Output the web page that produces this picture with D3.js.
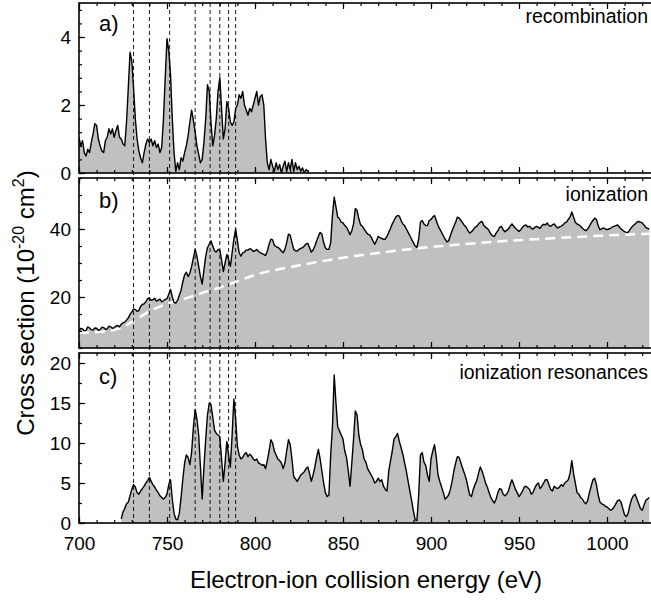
<!DOCTYPE html>
<html>
<head>
<meta charset="utf-8">
<script src="https://cdn.jsdelivr.net/npm/d3@7"></script>
<style>
  body { margin: 0; background: #fff; }
  svg { display: block; font-family: "Liberation Sans", Arial, sans-serif; }
</style>
</head>
<body>
<div id="chart"></div>
<script>
// Energy grid: each series is sampled every 1 eV from its start energy
var stepE = 1;
var startA = 700, startB = 700, startC = 724;

// a) recombination cross section (10^-20 cm^2), 700-830 eV
var crossA = [
  1.05, 0.8, 0.95, 0.6, 0.5, 0.7, 0.6, 0.9, 1.15, 1.45,
  1.4, 1.0, 0.8, 0.65, 0.6, 0.95, 1.05, 1.3, 1.15, 1.3,
  1.05, 1.25, 1.4, 1.05, 1.0, 0.85, 0.8, 1.5, 2.5, 3.55,
  3.3, 2.5, 1.6, 1.0, 0.65, 0.45, 0.3, 0.6, 0.85, 1.0,
  0.9, 1.0, 0.8, 0.95, 0.75, 0.85, 0.6, 0.75, 1.6, 2.8,
  3.95, 3.6, 2.9, 1.6, 0.6, 0.05, 0.3, 0.1, 0.45, 0.35,
  0.6, 0.8, 1.1, 1.5, 1.85, 1.55, 1.2, 0.8, 0.55, 0.3,
  0.4, 0.9, 1.6, 2.6, 2.4, 1.5, 0.8, 1.1, 1.6, 2.4,
  2.8, 1.9, 1.0, 1.3, 2.1, 1.9, 1.5, 1.4, 1.5, 1.9,
  2.0, 2.3, 2.2, 2.4, 2.0, 1.85, 1.7, 1.9, 1.8, 2.0,
  2.2, 2.4, 2.0, 2.25, 2.3, 2.0, 1.0, 0.3, 0.1, 0.4,
  0.2, 0.05, 0.3, 0.1, 0.25, 0.0, 0.2, 0.35, 0.05, 0.3,
  0.1, 0.4, 0.05, 0.3, 0.1, 0.2, 0.05, 0.15, 0.0, 0.1,
  0.05];

// b) ionization cross section, 700-1024 eV
var crossB = [
  10.0, 10.8, 10.6, 10.1, 10.2, 11.2, 10.9, 10.4, 10.3, 10.9,
  10.8, 10.2, 10.4, 11.1, 11.0, 10.5, 10.6, 11.4, 11.2, 10.8,
  11.0, 11.5, 11.6, 11.2, 12.0, 12.4, 12.6, 13.2, 13.8, 14.9,
  15.6, 16.5, 16.3, 15.8, 16.0, 17.2, 17.8, 18.0, 18.6, 19.5,
  19.7, 19.0, 19.2, 19.6, 18.8, 19.1, 19.4, 18.6, 18.9, 19.3,
  19.5, 20.8, 22.2, 20.0, 18.4, 18.2, 19.0, 20.5, 22.0, 24.5,
  26.5, 27.3, 26.0, 27.0, 29.0, 31.5, 34.0, 32.0, 29.0, 26.0,
  23.8, 28.0, 32.0, 34.5, 35.5, 36.5, 35.0, 33.6, 33.2, 34.0,
  33.8, 31.0, 27.5, 30.0, 32.5, 31.0, 29.0, 33.0, 37.0, 40.0,
  36.5, 33.0, 32.0, 33.0, 33.2, 33.8, 33.8, 34.2, 34.0, 33.4,
  33.6, 34.0, 33.4, 33.0, 32.8, 32.5, 32.2, 33.5, 35.5, 37.0,
  36.8, 35.2, 34.8, 34.6, 34.2, 33.5, 33.0, 34.0, 36.0, 38.5,
  38.2, 36.0, 34.0, 33.6, 33.5, 34.0, 34.3, 34.5, 35.0, 35.6,
  35.8, 34.5, 33.2, 33.8, 35.0, 36.5, 37.8, 39.0, 38.5, 36.0,
  34.5, 34.0, 34.0, 36.0, 44.0, 49.4, 46.5, 43.5, 43.0, 42.0,
  41.8, 41.0, 40.5, 39.5, 38.3, 39.5, 41.5, 46.0, 45.5, 43.0,
  41.2, 40.8, 40.0, 39.2, 38.5, 38.3, 37.6, 36.5, 35.5, 36.5,
  37.8, 37.5, 37.2, 37.0, 37.0, 37.8, 39.0, 40.2, 41.5, 42.5,
  43.5, 44.0, 43.8, 42.5, 41.5, 41.0, 40.0, 39.0, 38.0, 37.0,
  36.0, 35.0, 34.6, 37.0, 42.0, 42.5, 41.5, 41.0, 41.0, 42.5,
  42.8, 43.5, 44.0, 42.5, 41.0, 40.0, 39.0, 38.0, 37.0, 36.2,
  36.5, 38.0, 39.5, 40.8, 42.0, 43.5, 43.2, 42.5, 41.8, 41.0,
  40.5, 39.5, 38.8, 39.2, 39.8, 40.5, 40.8, 41.5, 42.0, 42.2,
  41.0, 40.5, 40.2, 39.5, 38.5, 38.0, 37.8, 38.8, 39.5, 40.5,
  40.8, 39.8, 39.2, 39.6, 40.0, 40.8, 41.5, 40.8, 40.2, 39.8,
  39.3, 39.8, 40.5, 41.0, 41.2, 40.6, 40.8, 40.2, 40.0, 40.5,
  40.8, 40.5, 40.2, 41.0, 41.4, 41.2, 41.8, 41.0, 40.8, 41.2,
  41.5, 40.8, 40.3, 40.6, 40.8, 41.2, 41.8, 42.0, 42.8, 43.5,
  45.0, 43.5, 42.0, 41.5, 41.2, 40.8, 40.2, 39.8, 39.5, 40.0,
  40.8, 41.8, 42.5, 43.2, 42.8, 41.0, 39.8, 40.0, 40.3, 40.0,
  39.8, 40.0, 40.2, 40.6, 40.8, 41.0, 41.2, 40.6, 40.0, 39.6,
  39.2, 39.0, 39.0, 39.8, 40.5, 41.0, 41.5, 42.0, 42.2, 42.0,
  41.8, 41.2, 40.5, 40.2, 40.0];

// b) direct ionization background (white dashed curve)
var bgEnergy = [700, 710, 720, 730, 740, 750, 760, 770, 780, 790, 800, 820, 840, 860, 880, 900, 920, 940, 960, 980, 1000, 1024];
var bgCross = [9.5, 9.7, 10.3, 12.6, 15.8, 18.0, 19.5, 21.2, 22.8, 24.6, 26.5, 28.8, 30.7, 32.3, 33.6, 34.7, 35.6, 36.4, 37.0, 37.6, 38.1, 38.6];

// c) ionization resonances, 724-1024 eV
var crossC = [
  0.5, 1.4, 1.8, 2.4, 2.6, 3.4,
  4.2, 4.8, 4.5, 3.8, 3.6, 4.0, 4.3, 4.6, 5.0, 5.3,
  5.7, 5.2, 4.8, 4.5, 4.1, 3.8, 3.4, 3.2, 3.0, 3.2,
  3.6, 4.8, 5.4, 3.0, 1.2, 0.5, 0.4, 1.2, 3.2, 5.5,
  7.5, 8.5, 8.2, 7.3, 8.9, 12.0, 14.2, 13.0, 11.0, 7.0,
  3.0, 7.0, 10.5, 13.5, 15.0, 14.8, 13.2, 11.6, 11.2, 11.0,
  10.8, 8.0, 5.2, 7.5, 10.2, 8.5, 7.0, 11.0, 15.5, 13.0,
  9.6, 8.5, 8.0, 8.2, 8.6, 8.8, 8.3, 8.6, 8.4, 8.0,
  7.8, 8.0, 7.5, 7.4, 7.2, 7.3, 6.8, 7.8, 9.0, 10.4,
  10.0, 9.0, 8.5, 8.0, 7.8, 7.5, 6.8, 7.5, 9.0, 10.4,
  9.8, 8.0, 5.8, 5.5, 5.2, 5.6, 6.0, 6.2, 6.4, 6.8,
  7.0, 6.2, 5.2, 6.0, 7.0, 8.2, 9.2, 8.0, 6.5, 5.0,
  3.8, 3.3, 3.5, 8.5, 12.0, 18.5, 15.0, 12.0, 11.5, 11.0,
  10.5, 9.0, 8.2, 6.5, 4.6, 7.5, 10.5, 14.0, 13.5, 11.0,
  9.8, 9.2, 8.0, 7.6, 6.8, 6.4, 6.0, 5.6, 5.0, 5.2,
  5.6, 5.2, 5.4, 4.6, 4.2, 4.0, 6.5, 7.8, 9.0, 10.5,
  10.8, 11.2, 10.2, 9.4, 8.6, 7.5, 6.5, 5.2, 4.0, 2.8,
  1.5, 0.4, 0.3, 3.5, 8.5, 8.8, 7.6, 7.2, 6.0, 5.2,
  8.0, 9.0, 9.8, 8.2, 6.0, 5.2, 4.5, 3.8, 3.0, 3.2,
  3.5, 4.2, 5.2, 6.5, 7.5, 8.3, 8.2, 7.5, 6.8, 6.2,
  5.5, 4.5, 3.5, 3.3, 4.2, 4.8, 5.3, 6.2, 7.0, 6.5,
  5.8, 5.0, 4.5, 3.8, 3.2, 2.8, 2.5, 3.0, 3.8, 4.3,
  4.2, 3.6, 3.4, 3.6, 4.0, 4.8, 5.4, 4.8, 4.2, 3.8,
  3.3, 3.6, 4.0, 4.5, 4.6, 4.4, 4.2, 3.6, 3.8, 4.4,
  4.8, 5.0, 4.3, 4.6, 5.0, 5.4, 5.4, 4.8, 4.2, 4.0,
  4.6, 4.4, 4.3, 4.5, 4.8, 4.6, 5.0, 5.2, 5.4, 6.2,
  7.8, 6.2, 5.0, 3.8, 3.6, 3.2, 3.0, 2.6, 2.4, 2.8,
  3.8, 4.6, 5.4, 5.6, 4.8, 3.5, 2.6, 2.4, 2.3, 2.1,
  2.0, 1.8, 1.6, 1.7, 2.0, 2.4, 2.8, 2.9, 2.6, 1.8,
  1.0, 0.8, 1.2, 2.2, 3.0, 3.4, 3.6, 3.0, 2.4, 1.8,
  1.6, 2.2, 2.8, 3.0, 3.2];

// resonance positions (vertical dashed lines)
var markerEnergies = [731, 740, 751.5, 766, 774.5, 780, 785, 789];

var xTicks = [700, 750, 800, 850, 900, 950, 1000];

var svgWidth = 651;
var svgHeight = 602;

var svg = d3.select("#chart")
  .append("svg")
  .attr("width", svgWidth)
  .attr("height", svgHeight);

var x = d3.scaleLinear().domain([700, 1025]).range([79, 651]);

// three stacked panels
var panels = [
  { key: "a", data: crossA, start: startA, y: d3.scaleLinear().domain([0, 5]).range([173, 3]),
    major: [0, 2, 4], minor: d3.range(0, 5.01, 0.4), label: "a)", title: "recombination", labelY: 31, titleY: 23 },
  { key: "b", data: crossB, start: startB, y: d3.scaleLinear().domain([5, 55]).range([348, 178]),
    major: [20, 40], minor: d3.range(5, 55.01, 5), label: "b)", title: "ionization", labelY: 208, titleY: 201 },
  { key: "c", data: crossC, start: startC, y: d3.scaleLinear().domain([0, 21.25]).range([523, 353]),
    major: [0, 5, 10, 15, 20], minor: d3.range(0, 21.01, 2.5), label: "c)", title: "ionization resonances", labelY: 384, titleY: 379 }
];

panels.forEach(function (p) {
  var y = p.y;
  var top = y.range()[1], bottom = y.range()[0];
  var pts = p.data.map(function (v, i) { return { e: p.start + i * stepE, v: v }; });

  svg.append("clipPath").attr("id", "clip-" + p.key)
    .append("rect").attr("x", 79).attr("y", top).attr("width", 572).attr("height", bottom - top);

  var g = svg.append("g").attr("clip-path", "url(#clip-" + p.key + ")");

  var area = d3.area()
    .x(function (d) { return x(d.e); })
    .y0(bottom)
    .y1(function (d) { return y(d.v); });

  var line = d3.line()
    .x(function (d) { return x(d.e); })
    .y(function (d) { return y(d.v); });

  g.append("path").datum(pts)
    .attr("d", area)
    .attr("fill", "#c0c0c0");

  if (p.key === "b") {
    var bg = bgEnergy.map(function (e, i) { return { e: e, v: bgCross[i] }; });
    g.append("path").datum(bg)
      .attr("d", line.curve(d3.curveMonotoneX))
      .attr("fill", "none")
      .attr("stroke", "#fff")
      .attr("stroke-width", 2.5)
      .attr("stroke-dasharray", "10,6");
    line.curve(d3.curveLinear);
  }

  g.append("path").datum(pts)
    .attr("d", line)
    .attr("fill", "none")
    .attr("stroke", "#000")
    .attr("stroke-width", 1.4)
    .attr("stroke-linejoin", "round");

  // y axis, ticks pointing inward
  svg.append("g")
    .attr("transform", "translate(79,0)")
    .call(d3.axisLeft(y).tickValues(p.minor).tickSizeInner(-3).tickSizeOuter(0).tickFormat(""))
    .call(function (s) { s.select(".domain").remove(); });
  svg.append("g")
    .attr("class", "ylab")
    .attr("transform", "translate(79,0)")
    .call(d3.axisLeft(y).tickValues(p.major).tickSizeInner(-6).tickSizeOuter(0).tickPadding(8).tickFormat(d3.format("d")))
    .call(function (s) { s.select(".domain").remove(); });

  // x ticks on bottom and top of every panel
  var xMinor = d3.range(700, 1025, 10);
  [["bottom", bottom], ["top", top]].forEach(function (side) {
    var mk = side[0] === "bottom" ? d3.axisBottom : d3.axisTop;
    svg.append("g")
      .attr("transform", "translate(0," + side[1] + ")")
      .call(mk(x).tickValues(xMinor).tickSizeInner(-3).tickSizeOuter(0).tickFormat(""))
      .call(function (s) { s.select(".domain").remove(); });
    var major = mk(x).tickValues(xTicks).tickSizeInner(-6).tickSizeOuter(0).tickPadding(14)
      .tickFormat(d3.format("d"));
    if (!(p.key === "c" && side[0] === "bottom")) major.tickFormat("");
    svg.append("g")
      .attr("class", "xlab")
      .attr("transform", "translate(0," + side[1] + ")")
      .call(major)
      .call(function (s) { s.select(".domain").remove(); });
  });

  // frame
  svg.append("rect")
    .attr("x", 79).attr("y", top)
    .attr("width", 575).attr("height", bottom - top)
    .attr("fill", "none")
    .attr("stroke", "#000")
    .attr("stroke-width", 1.6);

  svg.append("text")
    .attr("x", 99).attr("y", p.labelY)
    .attr("font-size", "22px")
    .text(p.label);

  svg.append("text")
    .attr("x", 648).attr("y", p.titleY)
    .attr("text-anchor", "end")
    .attr("font-size", "19.5px")
    .text(p.title);
});

svg.selectAll(".tick line").attr("stroke", "#000").attr("stroke-width", 1.2);
svg.selectAll(".ylab text, .xlab text")
  .attr("font-size", "19px")
  .attr("fill", "#000")
  .style("font-family", "'Liberation Sans', Arial, sans-serif");

// vertical dashed markers through all panels
svg.append("g").selectAll("line")
  .data(markerEnergies)
  .join("line")
  .attr("x1", function (d) { return x(d); })
  .attr("x2", function (d) { return x(d); })
  .attr("y1", 3)
  .attr("y2", 523)
  .attr("stroke", "#000")
  .attr("stroke-width", 0.9)
  .attr("stroke-dasharray", "4,3");

// axis titles
svg.append("text")
  .attr("x", 366).attr("y", 588)
  .attr("text-anchor", "middle")
  .attr("font-size", "24px")
  .text("Electron-ion collision energy (eV)");

var yTitle = svg.append("text")
  .attr("transform", "translate(34,303) rotate(-90)")
  .attr("text-anchor", "middle")
  .attr("font-size", "24px");
yTitle.append("tspan").text("Cross section (10");
yTitle.append("tspan").attr("dy", -10).attr("font-size", "16px").text("-20");
yTitle.append("tspan").attr("dy", 10).text(" cm");
yTitle.append("tspan").attr("dy", -10).attr("font-size", "16px").text("2");
yTitle.append("tspan").attr("dy", 10).text(")");
</script>
</body>
</html>
